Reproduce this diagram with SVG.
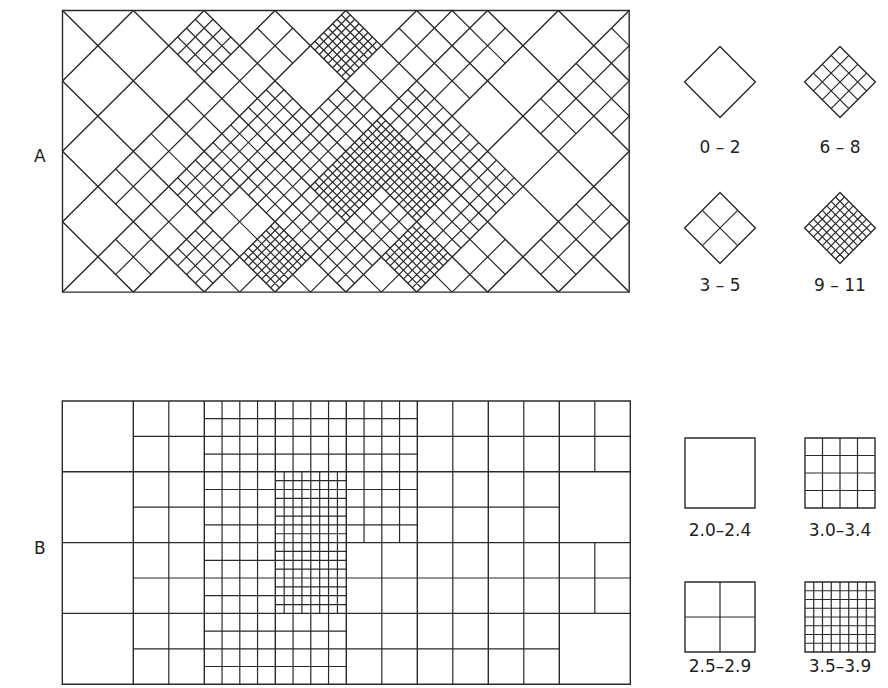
<svg xmlns="http://www.w3.org/2000/svg" width="888" height="688" viewBox="0 0 888 688">
<style>
.ln{fill:none;stroke:#2a2a2a;stroke-width:1.4;vector-effect:non-scaling-stroke;stroke-linecap:butt}
.fn{fill:none;stroke:#2a2a2a;stroke-width:1.2;vector-effect:non-scaling-stroke}
.lab{font-family:"DejaVu Sans","Liberation Sans",sans-serif;font-size:17px;fill:#222}
.big{font-family:"DejaVu Sans","Liberation Sans",sans-serif;font-size:17px;fill:#222}
</style>
<defs>
<clipPath id="clipA"><rect x="0" y="0" width="16" height="8"/></clipPath>
<clipPath id="A1"><path d="M11-1l1 1-1 1-1-1zM4 0l1 1-1 1-1-1zM6 0l1 1-1 1-1-1zM8 0l1 1-1 1-1-1zM10 0l1 1-1 1-1-1zM12 0l1 1-1 1-1-1zM16 0l1 1-1 1-1-1zM5 1l1 1-1 1-1-1zM9 1l1 1-1 1-1-1zM11 1l1 1-1 1-1-1zM15 1l1 1-1 1-1-1zM4 2l1 1-1 1-1-1zM6 2l1 1-1 1-1-1zM8 2l1 1-1 1-1-1zM10 2l1 1-1 1-1-1zM14 2l1 1-1 1-1-1zM16 2l1 1-1 1-1-1zM3 3l1 1-1 1-1-1zM5 3l1 1-1 1-1-1zM7 3l1 1-1 1-1-1zM9 3l1 1-1 1-1-1zM11 3l1 1-1 1-1-1zM2 4l1 1-1 1-1-1zM4 4l1 1-1 1-1-1zM6 4l1 1-1 1-1-1zM8 4l1 1-1 1-1-1zM10 4l1 1-1 1-1-1zM12 4l1 1-1 1-1-1zM3 5l1 1-1 1-1-1zM5 5l1 1-1 1-1-1zM7 5l1 1-1 1-1-1zM9 5l1 1-1 1-1-1zM11 5l1 1-1 1-1-1zM15 5l1 1-1 1-1-1zM2 6l1 1-1 1-1-1zM4 6l1 1-1 1-1-1zM6 6l1 1-1 1-1-1zM8 6l1 1-1 1-1-1zM10 6l1 1-1 1-1-1zM12 6l1 1-1 1-1-1zM14 6l1 1-1 1-1-1zM5 7l1 1-1 1-1-1zM7 7l1 1-1 1-1-1zM9 7l1 1-1 1-1-1zM11 7l1 1-1 1-1-1z"/></clipPath>
<clipPath id="A2"><path d="M4 0l1 1-1 1-1-1zM8 0l1 1-1 1-1-1zM6 2l1 1-1 1-1-1zM8 2l1 1-1 1-1-1zM10 2l1 1-1 1-1-1zM5 3l1 1-1 1-1-1zM7 3l1 1-1 1-1-1zM9 3l1 1-1 1-1-1zM11 3l1 1-1 1-1-1zM4 4l1 1-1 1-1-1zM6 4l1 1-1 1-1-1zM8 4l1 1-1 1-1-1zM10 4l1 1-1 1-1-1zM12 4l1 1-1 1-1-1zM7 5l1 1-1 1-1-1zM9 5l1 1-1 1-1-1zM11 5l1 1-1 1-1-1zM4 6l1 1-1 1-1-1zM6 6l1 1-1 1-1-1zM8 6l1 1-1 1-1-1zM10 6l1 1-1 1-1-1z"/></clipPath>
<clipPath id="A3"><path d="M8 0l1 1-1 1-1-1zM9 3l1 1-1 1-1-1zM8 4l1 1-1 1-1-1zM10 4l1 1-1 1-1-1zM6 6l1 1-1 1-1-1zM10 6l1 1-1 1-1-1z"/></clipPath>
<path id="dg2" class="fn" d="M-.5-.5l1 1M.5-.5l-1 1"/>
<path id="dg4" class="fn" d="M-.25-.75l1 1M-.75-.25l1 1M.25-.75l-1 1M.75-.25l-1 1M-.5-.5l1 1M.5-.5l-1 1"/>
<path id="dg8" class="fn" d="M-.125-.875l1 1M-.375-.625l1 1M-.625-.375l1 1M-.875-.125l1 1M.125-.875l-1 1M.375-.625l-1 1M.625-.375l-1 1M.875-.125l-1 1M-.25-.75l1 1M-.75-.25l1 1M.25-.75l-1 1M.75-.25l-1 1M-.5-.5l1 1M.5-.5l-1 1"/>
</defs>

<text class="big" x="34" y="162">A</text>
<text class="big" x="34" y="554">B</text>

<g id="panelA" transform="translate(62.5,10.5) scale(35.42,35.2)">
 <g clip-path="url(#clipA)">
  <path class="ln" d="M2 0l-8 8m10-8l-8 8m10-8l-8 8m10-8l-8 8m10-8l-8 8m10-8l-8 8m10-8l-8 8m10-8l-8 8m10-8l-8 8m10-8l-8 8m10-8l-8 8M-6 0l8 8m-6-8l8 8m-6-8l8 8m-6-8l8 8m-6-8l8 8m-6-8l8 8m-6-8l8 8m-6-8l8 8m-6-8l8 8m-6-8l8 8m-6-8l8 8"/>
  <g clip-path="url(#A1)"><path class="fn" d="M1 0l-8 8m10-8l-8 8m10-8l-8 8m10-8l-8 8m10-8l-8 8m10-8l-8 8m10-8l-8 8m10-8l-8 8m10-8l-8 8m10-8l-8 8m10-8l-8 8m10-8l-8 8M-7 0l8 8m-6-8l8 8m-6-8l8 8m-6-8l8 8m-6-8l8 8m-6-8l8 8m-6-8l8 8m-6-8l8 8m-6-8l8 8m-6-8l8 8m-6-8l8 8m-6-8l8 8"/></g>
  <g clip-path="url(#A2)"><path class="fn" d="M.5 0l-8 8m9-8l-8 8m9-8l-8 8m9-8l-8 8m9-8l-8 8m9-8l-8 8m9-8l-8 8m9-8l-8 8m9-8l-8 8m9-8l-8 8m9-8l-8 8m9-8l-8 8m9-8l-8 8m9-8l-8 8m9-8l-8 8m9-8l-8 8m9-8l-8 8m9-8l-8 8m9-8l-8 8m9-8l-8 8m9-8l-8 8m9-8l-8 8m9-8l-8 8m9-8l-8 8M-7.5 0l8 8m-7-8l8 8m-7-8l8 8m-7-8l8 8m-7-8l8 8m-7-8l8 8m-7-8l8 8m-7-8l8 8m-7-8l8 8m-7-8l8 8m-7-8l8 8m-7-8l8 8m-7-8l8 8m-7-8l8 8m-7-8l8 8m-7-8l8 8m-7-8l8 8m-7-8l8 8m-7-8l8 8m-7-8l8 8m-7-8l8 8m-7-8l8 8m-7-8l8 8m-7-8l8 8"/></g>
  <g clip-path="url(#A3)"><path class="fn" d="M.25 0l-8 8m8.5-8l-8 8m8.5-8l-8 8m8.5-8l-8 8m8.5-8l-8 8m8.5-8l-8 8m8.5-8l-8 8m8.5-8l-8 8m8.5-8l-8 8m8.5-8l-8 8m8.5-8l-8 8m8.5-8l-8 8m8.5-8l-8 8m8.5-8l-8 8m8.5-8l-8 8m8.5-8l-8 8m8.5-8l-8 8m8.5-8l-8 8m8.5-8l-8 8m8.5-8l-8 8m8.5-8l-8 8m8.5-8l-8 8m8.5-8l-8 8m8.5-8l-8 8m8.5-8l-8 8m8.5-8l-8 8m8.5-8l-8 8m8.5-8l-8 8m8.5-8l-8 8m8.5-8l-8 8m8.5-8l-8 8m8.5-8l-8 8m8.5-8l-8 8m8.5-8l-8 8m8.5-8l-8 8m8.5-8l-8 8m8.5-8l-8 8m8.5-8l-8 8m8.5-8l-8 8m8.5-8l-8 8m8.5-8l-8 8m8.5-8l-8 8m8.5-8l-8 8m8.5-8l-8 8m8.5-8l-8 8m8.5-8l-8 8m8.5-8l-8 8m8.5-8l-8 8M-7.75 0l8 8m-7.5-8l8 8m-7.5-8l8 8m-7.5-8l8 8m-7.5-8l8 8m-7.5-8l8 8m-7.5-8l8 8m-7.5-8l8 8m-7.5-8l8 8m-7.5-8l8 8m-7.5-8l8 8m-7.5-8l8 8m-7.5-8l8 8m-7.5-8l8 8m-7.5-8l8 8m-7.5-8l8 8m-7.5-8l8 8m-7.5-8l8 8m-7.5-8l8 8m-7.5-8l8 8m-7.5-8l8 8m-7.5-8l8 8m-7.5-8l8 8m-7.5-8l8 8m-7.5-8l8 8m-7.5-8l8 8m-7.5-8l8 8m-7.5-8l8 8m-7.5-8l8 8m-7.5-8l8 8m-7.5-8l8 8m-7.5-8l8 8m-7.5-8l8 8m-7.5-8l8 8m-7.5-8l8 8m-7.5-8l8 8m-7.5-8l8 8m-7.5-8l8 8m-7.5-8l8 8m-7.5-8l8 8m-7.5-8l8 8m-7.5-8l8 8m-7.5-8l8 8m-7.5-8l8 8m-7.5-8l8 8m-7.5-8l8 8m-7.5-8l8 8m-7.5-8l8 8"/></g>
 </g>
 <rect class="ln" x="0" y="0" width="16" height="8"/>
</g>

<g id="panelB" transform="translate(62.3,401) scale(35.5,35.4)">
 <path class="ln" d="M2 0V8M4 0V8M6 0V8M8 0V8M10 0V8M12 0V8M14 0V8M0 2H16M0 4H16M0 6H16"/>
 <path class="fn" d="M3 0V8M5 0V8M7 0V8M9 0V8M11 0V8M13 0V8M15 0V2M15 4V6M2 1H16M2 3H14M2 5H16M2 7H14"/>
 <path class="fn" d="M4.5 0V8M5.5 0V8M6.5 0V8M7.5 0V8M8.5 0V4M9.5 0V4M4 .5H10M4 1.5H10M4 2.5H10M4 3.5H10M4 4.5H8M4 5.5H8M4 6.5H8M4 7.5H8"/>
 <path class="fn" d="M6.25 2V6M6.75 2V6M7.25 2V6M7.75 2V6M6 2.25H8M6 2.75H8M6 3.25H8M6 3.75H8M6 4.25H8M6 4.75H8M6 5.25H8M6 5.75H8"/>
 <rect class="ln" x="0" y="0" width="16" height="8"/>
</g>

<g id="legA02" transform="translate(720,82) scale(35.4)">
 <path class="ln" d="M0-1L1 0 0 1-1 0Z"/>
</g>
<text class="lab" x="720" y="153" text-anchor="middle">0 – 2</text>
<g id="legA68" transform="translate(840,82) scale(35.4)">
 <use href="#dg4"/>
 <path class="ln" d="M0-1L1 0 0 1-1 0Z"/>
</g>
<text class="lab" x="840" y="153" text-anchor="middle">6 – 8</text>
<g id="legA35" transform="translate(720,228) scale(35.4)">
 <use href="#dg2"/>
 <path class="ln" d="M0-1L1 0 0 1-1 0Z"/>
</g>
<text class="lab" x="720" y="291" text-anchor="middle">3 – 5</text>
<g id="legA911" transform="translate(840,228) scale(35.4)">
 <use href="#dg8"/>
 <path class="ln" d="M0-1L1 0 0 1-1 0Z"/>
</g>
<text class="lab" x="840" y="291" text-anchor="middle">9 – 11</text>

<g id="legB20">
 <rect class="ln" x="685" y="438" width="70" height="70"/>
</g>
<text class="lab" x="720" y="536" text-anchor="middle">2.0–2.4</text>
<g id="legB30">
 <rect class="ln" x="805" y="438" width="70" height="70"/>
 <path class="fn" d="M822.5 438v70M840 438v70M857.5 438v70M805 455.5h70M805 473h70M805 490.5h70"/>
</g>
<text class="lab" x="840" y="536" text-anchor="middle">3.0–3.4</text>
<g id="legB25">
 <rect class="ln" x="685" y="582" width="70" height="70"/>
 <path class="fn" d="M720 582v70M685 617h70"/>
</g>
<text class="lab" x="720" y="672" text-anchor="middle">2.5–2.9</text>
<g id="legB35">
 <rect class="ln" x="805" y="582" width="70" height="70"/>
 <path class="fn" d="M813.75 582v70M822.5 582v70M831.25 582v70M840 582v70M848.75 582v70M857.5 582v70M866.25 582v70M805 590.75h70M805 599.5h70M805 608.25h70M805 617h70M805 625.75h70M805 634.5h70M805 643.25h70"/>
</g>
<text class="lab" x="840" y="672" text-anchor="middle">3.5–3.9</text>
</svg>
